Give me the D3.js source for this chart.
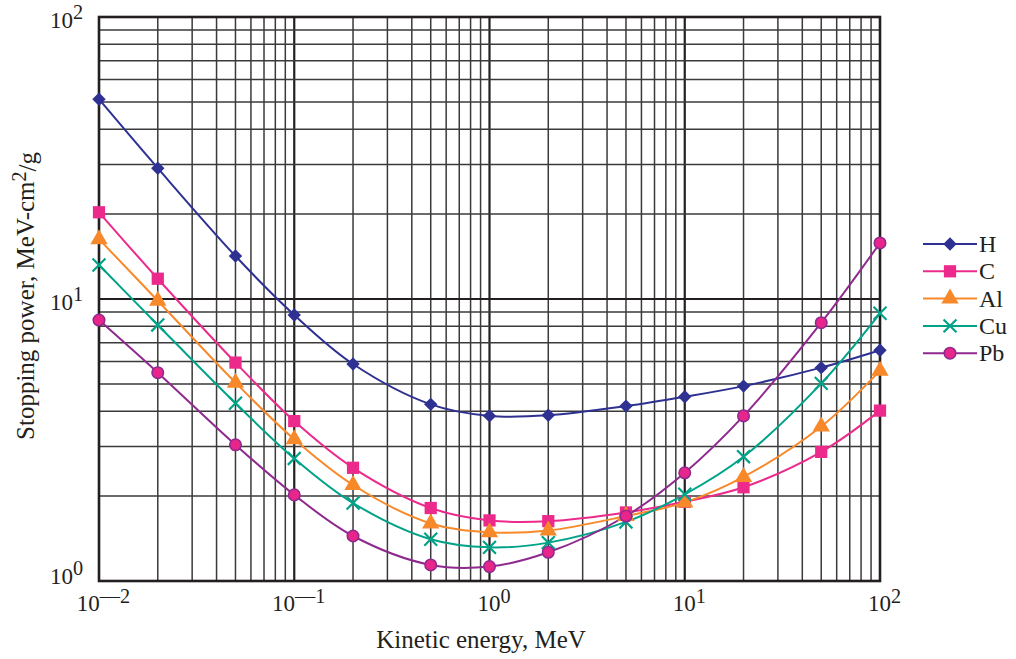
<!DOCTYPE html>
<html>
<head>
<meta charset="utf-8">
<script src="https://cdn.jsdelivr.net/npm/d3@7"></script>
<style>
  html, body { margin: 0; padding: 0; background: #fff; }
  svg { display: block; }
  text { font-family: "Liberation Serif", "Times New Roman", serif; fill: #231f20; }
</style>
</head>
<body>
<svg id="chart" width="1016" height="659"></svg>
<script>
// Kinetic energy (MeV) at which stopping power is tabulated
const energies = [0.01, 0.02, 0.05, 0.1, 0.2, 0.5, 1, 2, 5, 10, 20, 50, 100];

// Stopping power, MeV-cm2/g, per material
const hValues  = [51.1, 29.1, 14.2, 8.78, 5.88, 4.23, 3.85, 3.87, 4.17, 4.50, 4.91, 5.71, 6.58];
const cValues  = [20.3, 11.8, 5.95, 3.69, 2.52, 1.815, 1.64, 1.63, 1.75, 1.91, 2.15, 2.87, 4.02];
const alValues = [16.3, 9.86, 5.05, 3.18, 2.19, 1.60, 1.488, 1.51, 1.70, 1.90, 2.34, 3.53, 5.57];
const cuValues = [13.2, 8.09, 4.27, 2.72, 1.89, 1.406, 1.316, 1.368, 1.62, 2.03, 2.76, 5.02, 8.90];
const pbValues = [8.42, 5.48, 3.04, 2.02, 1.444, 1.14, 1.125, 1.264, 1.70, 2.42, 3.85, 8.24, 15.8];

const seriesNames = ["H", "C", "Al", "Cu", "Pb"];
const seriesValues = [hValues, cValues, alValues, cuValues, pbValues];

// Decade ticks (exponents) for both axes
const xTickExponents = [-2, -1, 0, 1, 2];
const yTickExponents = [0, 1, 2];

// Diamond drawn as a square turned 45 degrees
const symbolRhomb = {
  draw(ctx, size) {
    const r = Math.sqrt(size / 2);
    ctx.moveTo(0, -r); ctx.lineTo(r, 0); ctx.lineTo(0, r); ctx.lineTo(-r, 0); ctx.closePath();
  }
};

const styles = {
  H:  { line: "#2e3192", fill: "#2e3192", stroke: "none",    symbol: symbolRhomb,       size: 90 },
  C:  { line: "#ec2a8c", fill: "#ec2a8c", stroke: "none",    symbol: d3.symbolSquare,   size: 150 },
  Al: { line: "#f7892a", fill: "#f7892a", stroke: "none",    symbol: d3.symbolTriangle, size: 130 },
  Cu: { line: "#00a388", fill: "none",    stroke: "#00a388", symbol: d3.symbolX,        size: 110 },
  Pb: { line: "#8e2a8e", fill: "#e8258a", stroke: "#8e2a8e", symbol: d3.symbolCircle,   size: 105 }
};

const svg = d3.select("#chart");
const plotLeft = 99, plotRight = 880, plotTop = 17, plotBottom = 581;

const x = d3.scaleLog().domain([0.01, 100]).range([plotLeft, plotRight]);
const y = d3.scaleLog().domain([1, 100]).range([plotBottom, plotTop]);

// Grid: 1..9 times each power of ten
const gridX = [], gridY = [];
for (let e = -2; e < 2; e++) for (let k = 1; k <= 9; k++) gridX.push(k * Math.pow(10, e));
for (let e = 0; e < 2; e++) for (let k = 1; k <= 9; k++) gridY.push(k * Math.pow(10, e));
const isDecade = v => Math.abs(Math.log10(v) - Math.round(Math.log10(v))) < 1e-9;

const grid = svg.append("g");
grid.selectAll(null).data(gridX.filter(v => v > 0.011)).enter().append("line")
  .attr("x1", d => x(d)).attr("x2", d => x(d))
  .attr("y1", plotTop).attr("y2", plotBottom)
  .attr("stroke", d => isDecade(d) ? "#231f20" : "#3a3a3a")
  .attr("stroke-width", d => isDecade(d) ? 2.2 : 1.5);
grid.selectAll(null).data(gridY.filter(v => v > 1.01)).enter().append("line")
  .attr("y1", d => y(d)).attr("y2", d => y(d))
  .attr("x1", plotLeft).attr("x2", plotRight)
  .attr("stroke", d => isDecade(d) ? "#231f20" : "#3a3a3a")
  .attr("stroke-width", d => isDecade(d) ? 2.2 : 1.5);

// Frame
svg.append("rect")
  .attr("x", plotLeft).attr("y", plotTop)
  .attr("width", plotRight - plotLeft).attr("height", plotBottom - plotTop)
  .attr("fill", "none").attr("stroke", "#231f20").attr("stroke-width", 2.6);

// Axes with power-of-ten labels
function powerLabel(sel) {
  sel.selectAll(".tick text").each(function(d) {
    const t = d3.select(this);
    const e = Math.round(Math.log10(d));
    t.text(null);
    t.append("tspan").text("10");
    t.append("tspan").attr("dy", "-0.42em").attr("font-size", "0.88em")
      .text(e < 0 ? "\u2014" + Math.abs(e) : String(e));
  });
}

const xAxis = svg.append("g").attr("transform", `translate(0,${plotBottom})`)
  .call(d3.axisBottom(x).tickValues(xTickExponents.map(e => Math.pow(10, e))).tickSize(0).tickPadding(14));
xAxis.select(".domain").remove();
xAxis.selectAll(".tick text").attr("font-size", 23).attr("font-family", "Liberation Serif").attr("fill", "#231f20")
  .attr("dx", 4);
powerLabel(xAxis);

const yAxis = svg.append("g").attr("transform", `translate(${plotLeft},0)`)
  .call(d3.axisLeft(y).tickValues(yTickExponents.map(e => Math.pow(10, e))).tickSize(0).tickPadding(16));
yAxis.select(".domain").remove();
yAxis.selectAll(".tick text").attr("font-size", 23).attr("font-family", "Liberation Serif").attr("fill", "#231f20")
  .attr("dy", d => d === 1 ? "0.1em" : "0.44em");
powerLabel(yAxis);

// Axis titles
svg.append("text").attr("x", 481).attr("y", 648).attr("text-anchor", "middle")
  .attr("font-size", 25).text("Kinetic energy, MeV");

const yTitle = svg.append("text")
  .attr("transform", "translate(34,296) rotate(-90)")
  .attr("text-anchor", "middle").attr("font-size", 25);
yTitle.append("tspan").text("Stopping power, MeV-cm");
yTitle.append("tspan").attr("dy", "-0.42em").attr("font-size", "0.8em").text("2");
yTitle.append("tspan").attr("dy", "0.42em").text("/g");

// Curves and markers
const line = d3.line().x(d => x(d[0])).y(d => y(d[1])).curve(d3.curveCatmullRom.alpha(0.5));
const plot = svg.append("g");

seriesNames.forEach((name, i) => {
  const st = styles[name];
  const pts = energies.map((e, j) => [e, seriesValues[i][j]]);
  plot.append("path").datum(pts)
    .attr("d", line).attr("fill", "none")
    .attr("stroke", st.line).attr("stroke-width", 2);
});

seriesNames.forEach((name, i) => {
  const st = styles[name];
  const pts = energies.map((e, j) => [e, seriesValues[i][j]]);
  plot.selectAll(null).data(pts).enter().append("path")
    .attr("transform", d => `translate(${x(d[0])},${y(d[1])})`)
    .attr("d", d3.symbol().type(st.symbol).size(st.size))
    .attr("fill", st.fill)
    .attr("stroke", st.stroke)
    .attr("stroke-width", name === "Cu" ? 2.2 : 1.5);
});

// Legend
const legend = svg.append("g");
seriesNames.forEach((name, i) => {
  const st = styles[name];
  const ly = 244 + i * 27.3;
  const g = legend.append("g").attr("transform", `translate(0,${ly})`);
  g.append("line").attr("x1", 923).attr("x2", 977).attr("y1", 0).attr("y2", 0)
    .attr("stroke", st.line).attr("stroke-width", 2);
  g.append("path").attr("transform", "translate(950,0)")
    .attr("d", d3.symbol().type(st.symbol).size(st.size))
    .attr("fill", st.fill).attr("stroke", st.stroke)
    .attr("stroke-width", name === "Cu" ? 2.2 : 1.5);
  g.append("text").attr("x", 979).attr("y", 8).attr("font-size", 24).text(name);
});
</script>
</body>
</html>
